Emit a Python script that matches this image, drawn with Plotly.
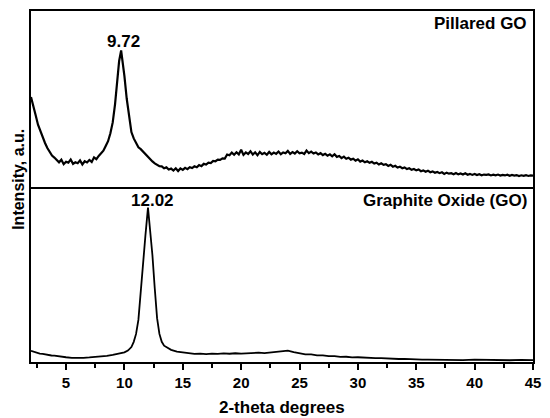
import plotly.graph_objects as go
from plotly.subplots import make_subplots

# Pillared GO (top panel), relative intensity 0-100 of panel height
x_top = [2.0, 2.2, 2.4, 2.6, 2.8, 3.0, 3.2, 3.4, 3.6, 3.8,
         4.0, 4.2, 4.4, 4.6, 4.8, 5.0, 5.2, 5.4, 5.6, 5.8,
         6.0, 6.2, 6.4, 6.6, 6.8, 7.0, 7.2, 7.4, 7.6, 7.8,
         8.0, 8.2, 8.4, 8.6, 8.8, 9.0, 9.2, 9.4, 9.55, 9.72,
         9.85, 10.0, 10.2, 10.4, 10.6, 10.8, 11.0, 11.2, 11.4, 11.6,
         11.8, 12.0, 12.2, 12.4, 12.6, 12.8, 13.0, 13.2, 13.4, 13.6,
         13.8, 14.0, 14.2, 14.4, 14.6, 14.8, 15.0, 15.2, 15.4, 15.6,
         15.8, 16.0, 16.2, 16.4, 16.6, 16.8, 17.0, 17.2, 17.4, 17.6,
         17.8, 18.0, 18.2, 18.4, 18.6, 18.8, 19.0, 19.2, 19.4, 19.6,
         19.8, 20.0, 20.2, 20.4, 20.6, 20.8, 21.0, 21.2, 21.4, 21.6,
         21.8, 22.0, 22.2, 22.4, 22.6, 22.8, 23.0, 23.2, 23.4, 23.6,
         23.8, 24.0, 24.2, 24.4, 24.6, 24.8, 25.0, 25.2, 25.4, 25.6,
         25.8, 26.0, 26.2, 26.4, 26.6, 26.8, 27.0, 27.2, 27.4, 27.6,
         27.8, 28.0, 28.2, 28.4, 28.6, 28.8, 29.0, 29.2, 29.4, 29.6,
         29.8, 30.0, 30.2, 30.4, 30.6, 30.8, 31.0, 31.2, 31.4, 31.6,
         31.8, 32.0, 32.2, 32.4, 32.6, 32.8, 33.0, 33.2, 33.4, 33.6,
         33.8, 34.0, 34.2, 34.4, 34.6, 34.8, 35.0, 35.2, 35.4, 35.6,
         35.8, 36.0, 36.2, 36.4, 36.6, 36.8, 37.0, 37.2, 37.4, 37.6,
         37.8, 38.0, 38.2, 38.4, 38.6, 38.8, 39.0, 39.2, 39.4, 39.6,
         39.8, 40.0, 40.2, 40.4, 40.6, 40.8, 41.0, 41.2, 41.4, 41.6,
         41.8, 42.0, 42.2, 42.4, 42.6, 42.8, 43.0, 43.2, 43.4, 43.6,
         43.8, 44.0, 44.2, 44.4, 44.6, 44.8, 45.0]
y_top = [51.0, 45.0, 40.6, 35.2, 31.4, 27.6, 24.8, 21.9, 19.8, 17.6,
         16.5, 14.9, 13.8, 15.3, 12.7, 14.1, 13.6, 15.4, 12.9, 13.8,
         13.3, 14.9, 12.6, 14.4, 13.7, 15.1, 14.0, 16.6, 15.6, 17.4,
         18.9, 20.4, 23.1, 25.8, 30.3, 36.5, 47.0, 61.0, 71.5, 77.5,
         72.0, 63.0, 50.0, 39.5, 31.0, 27.4, 24.9, 22.3, 21.3, 19.9,
         18.1, 16.8, 15.6, 14.3, 13.2, 12.6, 11.6, 11.5, 10.4, 10.9,
         9.7, 10.2, 9.1, 10.4, 8.8, 10.3, 9.5, 10.6, 9.9, 11.0,
         10.5, 11.5, 11.0, 12.2, 11.6, 12.9, 12.5, 13.6, 13.4, 14.6,
         14.4, 15.3, 15.2, 16.0, 15.9, 18.2, 17.8, 19.3, 18.1, 19.5,
         18.3, 20.9, 18.0, 19.4, 18.5, 20.1, 18.2, 19.5, 17.8, 19.7,
         18.4, 19.2, 18.1, 19.7, 18.3, 19.3, 18.6, 19.9, 18.4, 19.4,
         18.9, 20.3, 18.6, 19.6, 18.8, 20.1, 18.9, 19.3, 18.5, 20.5,
         19.0, 19.9, 18.8, 19.4, 18.3, 19.0, 17.9, 18.6, 17.6, 18.3,
         17.2, 18.4, 16.9, 17.4, 16.2, 17.0, 15.8, 16.4, 15.3, 15.8,
         14.7, 15.5, 14.2, 14.8, 13.8, 14.4, 13.5, 14.1, 13.1, 13.6,
         12.5, 13.2, 12.3, 12.7, 11.7, 12.4, 11.3, 11.8, 10.8, 11.3,
         10.4, 10.9, 9.9, 10.4, 9.5, 10.0, 9.2, 9.7, 8.7, 9.2,
         8.4, 9.0, 8.1, 8.6, 7.8, 8.3, 7.6, 8.1, 7.2, 7.9,
         7.3, 7.6, 7.0, 7.7, 6.9, 7.4, 6.8, 7.5, 6.7, 7.2,
         6.6, 7.1, 6.5, 7.0, 6.4, 6.8, 6.6, 6.9, 6.3, 6.7,
         6.4, 6.8, 6.2, 6.6, 6.3, 6.7, 6.1, 6.6, 6.2, 6.5,
         6.0, 6.4, 6.1, 6.5, 6.0, 6.3, 6.2]

# Graphite Oxide (bottom panel)
x_bot = [2.0, 2.25, 2.5, 2.75, 3.0, 3.25, 3.5, 3.75, 4.0, 4.5,
         5.0, 5.5, 6.0, 6.5, 7.0, 7.5, 8.0, 8.5, 9.0, 9.5,
         10.0, 10.3, 10.6, 10.8, 11.0, 11.2, 11.4, 11.6, 11.8, 12.02,
         12.2, 12.4, 12.6, 12.8, 13.0, 13.2, 13.4, 13.7, 14.0, 14.5,
         15.0, 15.5, 16.0, 16.5, 17.0, 17.5, 18.0, 18.5, 19.0, 19.5,
         20.0, 20.5, 21.0, 21.5, 22.0, 22.5, 23.0, 23.5, 24.0, 24.5,
         25.0, 25.5, 26.0, 26.5, 27.0, 27.5, 28.0, 28.5, 29.0, 29.5,
         30.0, 30.5, 31.0, 31.5, 32.0, 32.5, 33.0, 33.5, 34.0, 34.5,
         35.0, 35.5, 36.0, 37.0, 38.0, 39.0, 40.0, 41.0, 42.0, 43.0,
         44.0, 45.0]
y_bot = [6.4, 5.8, 5.3, 4.8, 4.6, 4.2, 4.1, 3.7, 3.6, 3.0,
         2.7, 2.4, 2.3, 2.4, 2.6, 2.8, 3.1, 3.5, 4.0, 4.7,
         5.5, 6.5, 8.5, 11.5, 16.0, 24.0, 41.0, 58.0, 72.0, 88.0,
         77.0, 61.0, 42.0, 25.0, 16.0, 11.5, 9.3, 7.9, 6.9, 5.9,
         5.3, 5.0, 4.6, 4.8, 4.5, 4.8, 4.6, 4.9, 4.7, 5.0,
         4.8, 5.1, 5.0, 5.3, 5.1, 5.4, 5.6, 5.9, 6.5, 5.6,
         5.0, 4.4, 4.3, 3.8, 3.8, 3.3, 3.3, 2.9, 3.0, 2.6,
         2.7, 2.4, 2.5, 2.2, 2.2, 1.9, 2.0, 1.7, 1.8, 1.5,
         1.5, 1.3, 1.4, 1.2, 1.3, 1.1, 1.3, 1.1, 1.2, 1.0,
         1.2, 1.1]

tick_vals = [5, 10, 15, 20, 25, 30, 35, 40, 45]
tick_text = ["5", "10", "15", "20", "25", "30", "35", "40", "45"]
minor_vals = [2.5, 7.5, 12.5, 17.5, 22.5, 27.5, 32.5, 37.5, 42.5]

FONT = "Arial, Liberation Sans, sans-serif"

fig = make_subplots(rows=2, cols=1, shared_xaxes=True, vertical_spacing=0)

fig.add_trace(go.Scatter(x=x_top, y=y_top, mode="lines",
                         line=dict(color="black", width=2.2),
                         showlegend=False), row=1, col=1)
fig.add_trace(go.Scatter(x=x_bot, y=y_bot, mode="lines",
                         line=dict(color="black", width=1.8),
                         showlegend=False), row=2, col=1)

axis_common = dict(showline=True, linecolor="black", linewidth=1.5,
                   showgrid=False, zeroline=False)

fig.update_xaxes(range=[2, 45], **axis_common)
fig.update_xaxes(ticks="", showticklabels=False, mirror=True, row=1, col=1)
fig.update_xaxes(mirror=False, ticks="outside", ticklen=6, tickwidth=1.5, tickcolor="black",
                 tickvals=tick_vals, ticktext=tick_text,
                 tickfont=dict(family=FONT, size=15, color="black", weight="bold"),
                 minor=dict(ticks="outside", ticklen=4, tickwidth=1.5, tickcolor="black",
                            tickvals=minor_vals),
                 row=2, col=1)
fig.update_yaxes(range=[0, 100], showticklabels=False, ticks="", mirror=True, **axis_common)
fig.update_layout(yaxis=dict(domain=[0.5, 1.0]), yaxis2=dict(domain=[0.0, 0.5]))

ann_font = dict(family=FONT, size=17, color="black", weight="bold")
annotations = [
    dict(text="9.72", x=0.184, y=0.912, xref="paper", yref="paper",
         xanchor="center", yanchor="middle", showarrow=False, font=ann_font),
    dict(text="12.02", x=0.243, y=0.459, xref="paper", yref="paper",
         xanchor="center", yanchor="middle", showarrow=False, font=ann_font),
    dict(text="Pillared GO", x=0.992, y=0.963, xref="paper", yref="paper",
         xanchor="right", yanchor="middle", showarrow=False, font=ann_font),
    dict(text="Graphite Oxide (GO)", x=0.992, y=0.459, xref="paper", yref="paper",
         xanchor="right", yanchor="middle", showarrow=False, font=ann_font),
    dict(text="2-theta degrees", x=0.5, y=-0.130, xref="paper", yref="paper",
         xanchor="center", yanchor="middle", showarrow=False, font=ann_font),
    dict(text="Intensity, a.u.", x=-0.0265, y=0.521, xref="paper", yref="paper",
         xanchor="center", yanchor="middle", textangle=-90, showarrow=False,
         font=dict(family=FONT, size=16, color="black", weight="bold")),
]

fig.update_layout(width=550, height=418,
                  margin=dict(l=31, r=9, t=9, b=56),
                  paper_bgcolor="white", plot_bgcolor="white",
                  annotations=annotations)

fig.write_html("out.html", config={"displayModeBar": False},
               post_script="document.body.style.margin='0';document.body.style.padding='0';document.body.style.overflow='hidden';")
